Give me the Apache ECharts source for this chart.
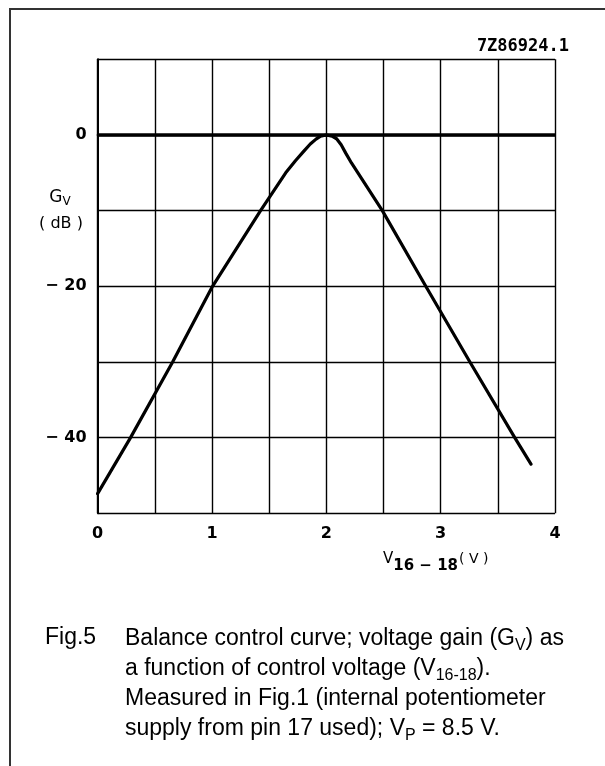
<!DOCTYPE html>
<html>
<head>
<meta charset="utf-8">
<script src="https://cdn.jsdelivr.net/npm/echarts@6/dist/echarts.min.js"></script>
<style>
    html, body { margin: 0; padding: 0; background: #fff; }
    #chart { width: 605px; height: 766px; }
</style>
</head>
<body>
<div id="chart"></div>
<script>
// control voltage V16-18 (V) and gain Gv (dB)
const voltage = [0, 0.288, 0.656, 1.005, 1.425, 1.645, 1.73, 1.8, 1.86, 1.91, 1.95, 2.0, 2.05, 2.09, 2.13, 2.17, 2.22, 2.49, 2.87, 3.256, 3.648, 3.79]
const gain = [-47.4, -40, -30, -20, -10, -5, -3.4, -2.2, -1.2, -0.55, -0.15, 0, -0.15, -0.5, -1.3, -2.4, -3.7, -10, -20, -30, -40, -43.5]

const xTickLabels = [0, 1, 2, 3, 4]
const yTickLabels = [0, -20, -40]
const refLevel = 0

const tickFont = 'DejaVu Sans'
const captionFont = 'Liberation Sans'

const chart = echarts.init(document.getElementById('chart'))

const option = {
    backgroundColor: '#fff',
    animation: false,
    grid: {
        left: 97.6,
        right: 50,
        top: 59.3,
        bottom: 252.7
    },
    xAxis: {
        type: 'value',
        min: 0,
        max: 4,
        interval: 0.5,
        axisLine: { show: true, lineStyle: { color: '#000', width: 2 } },
        axisTick: { show: false },
        axisLabel: {
            margin: 13,
            color: '#000',
            fontFamily: tickFont,
            fontWeight: 'bold',
            fontSize: 16,
            formatter: v => (xTickLabels.indexOf(v) >= 0 ? String(v) : '')
        },
        splitLine: { show: true, lineStyle: { color: '#000', width: 1.4 } }
    },
    yAxis: {
        type: 'value',
        min: -50,
        max: 10,
        interval: 10,
        axisLine: { show: true, lineStyle: { color: '#000', width: 2 } },
        axisTick: { show: false },
        axisLabel: {
            margin: 11,
            color: '#000',
            fontFamily: tickFont,
            fontWeight: 'bold',
            fontSize: 16,
            formatter: v => (yTickLabels.indexOf(v) >= 0 ? (v < 0 ? '\u2212 ' + Math.abs(v) : String(v)) : '')
        },
        splitLine: { show: true, lineStyle: { color: '#000', width: 1.4 } }
    },
    series: [
        {
            type: 'line',
            data: voltage.map((v, i) => [v, gain[i]]),
            showSymbol: false,
            smooth: false,
            lineStyle: { color: '#000', width: 3.2, join: 'round', cap: 'round' },
            markLine: {
                silent: true,
                symbol: 'none',
                label: { show: false },
                lineStyle: { color: '#000', width: 3.5, type: 'solid' },
                data: [{ yAxis: refLevel }]
            }
        }
    ],
    graphic: [
        {
            type: 'rect',
            shape: { x: 10, y: 9, width: 700, height: 800 },
            style: { fill: 'none', stroke: '#333', lineWidth: 2 },
            silent: true
        },
        {
            type: 'text',
            x: 569,
            y: 47,
            style: {
                text: '7Z86924.1',
                font: 'bold 17px "DejaVu Sans Mono"',
                fill: '#000',
                align: 'right',
                verticalAlign: 'middle'
            }
        },
        {
            type: 'text',
            x: 60,
            y: 198,
            style: {
                text: '{g|G}{s|V}',
                align: 'center',
                verticalAlign: 'middle',
                rich: {
                    g: { fontFamily: tickFont, fontSize: 17, fill: '#000', lineHeight: 20 },
                    s: { fontFamily: tickFont, fontSize: 12, fill: '#000', lineHeight: 10, verticalAlign: 'bottom' }
                }
            }
        },
        {
            type: 'text',
            x: 61,
            y: 224,
            style: {
                text: '( dB )',
                font: '16px "DejaVu Sans"',
                fill: '#000',
                align: 'center',
                verticalAlign: 'middle'
            }
        },
        {
            type: 'text',
            x: 383,
            y: 563,
            style: {
                text: '{v|V}{s|16 \u2212 18}{u|( V )}',
                align: 'left',
                verticalAlign: 'middle',
                rich: {
                    v: { fontFamily: tickFont, fontSize: 15, fill: '#000', lineHeight: 22, verticalAlign: 'top' },
                    s: { fontFamily: tickFont, fontWeight: 'bold', fontSize: 15, fill: '#000', lineHeight: 14, verticalAlign: 'bottom' },
                    u: { fontFamily: tickFont, fontSize: 14, fill: '#000', lineHeight: 22, verticalAlign: 'top', padding: [0, 0, 0, 1] }
                }
            }
        },
        {
            type: 'text',
            x: 45,
            y: 638,
            style: {
                text: 'Fig.5',
                font: '23px "Liberation Sans"',
                fill: '#000',
                verticalAlign: 'middle'
            }
        },
        {
            type: 'text',
            x: 125,
            y: 624,
            style: {
                text: [
                    'Balance control curve; voltage gain (G{s|V}) as',
                    'a function of control voltage (V{s|16-18}).',
                    'Measured in Fig.1 (internal potentiometer',
                    'supply from pin 17 used); V{s|P} = 8.5 V.'
                ].join('\n'),
                fontFamily: captionFont,
                fontSize: 23,
                lineHeight: 30,
                fill: '#000',
                verticalAlign: 'top',
                rich: {
                    s: { fontFamily: captionFont, fontSize: 16, lineHeight: 14, fill: '#000', verticalAlign: 'bottom' }
                }
            }
        }
    ]
}

chart.setOption(option)
window.addEventListener('resize', () => chart.resize())
</script>
</body>
</html>
